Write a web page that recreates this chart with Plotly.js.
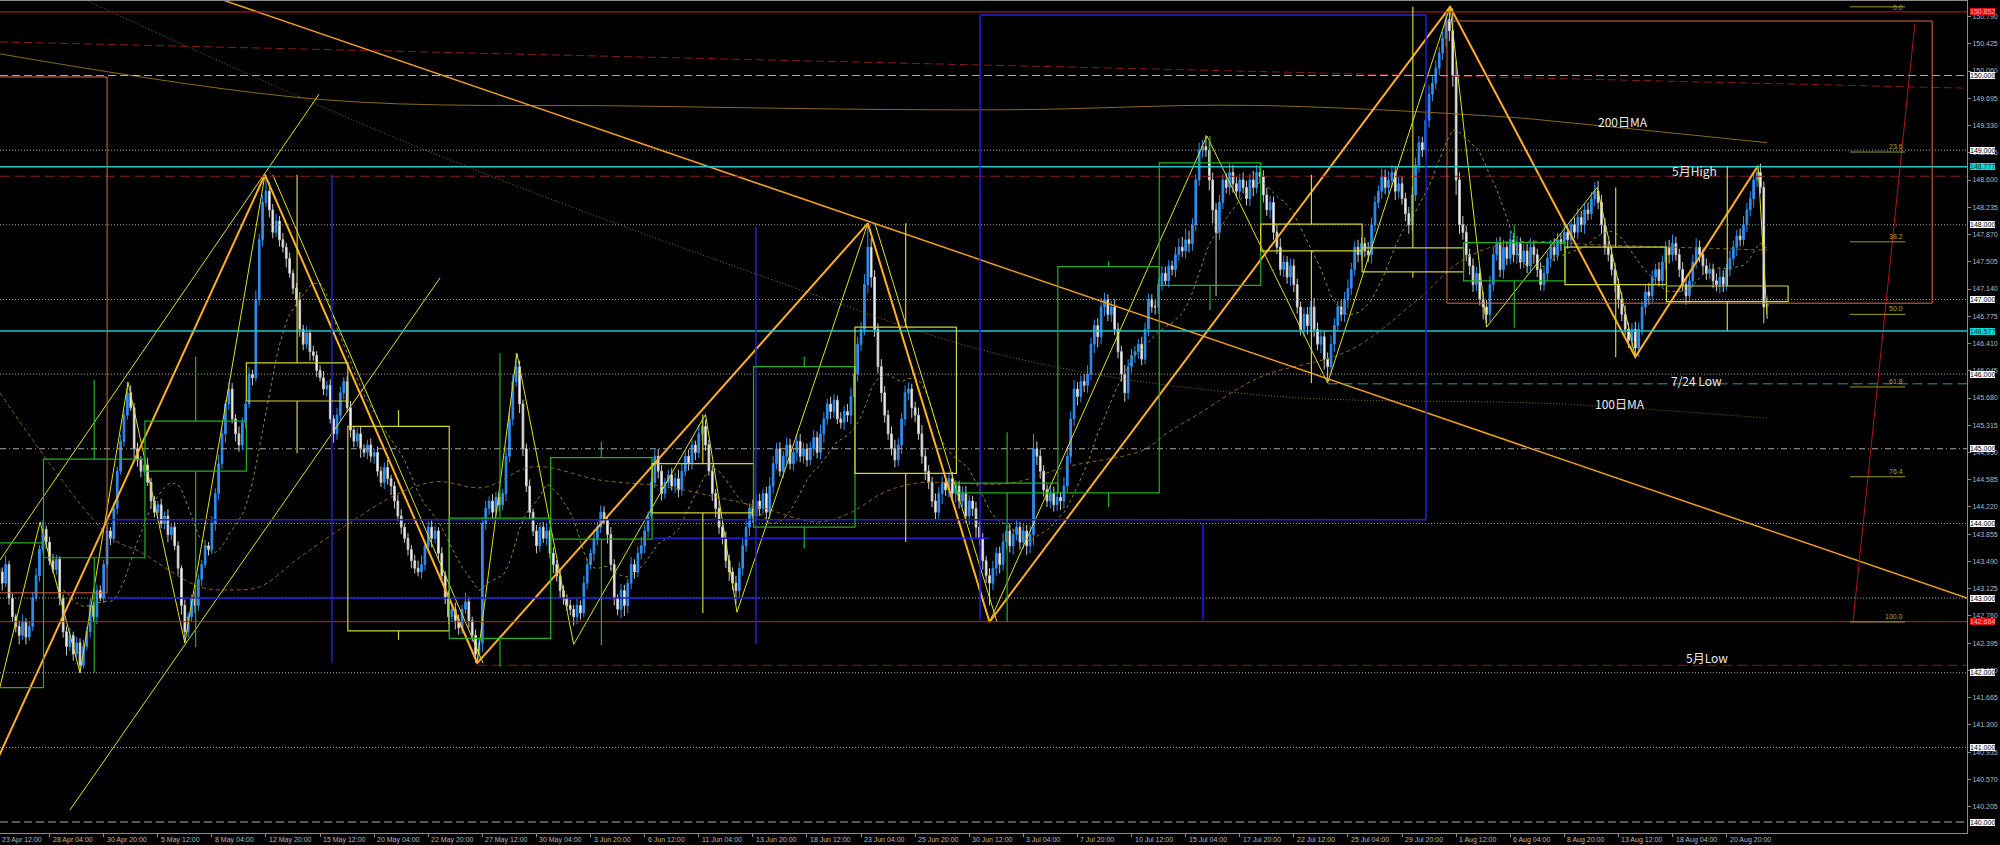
<!DOCTYPE html>
<html><head><meta charset="utf-8">
<script src="https://cdn.plot.ly/plotly-3.0.1.min.js"></script>
<style>html,body{margin:0;padding:0;background:#000;}#chart{width:2000px;height:845px;}</style>
</head><body><div id="chart"></div>
<script>
// ---------- H4 candles: closes in pips above 140.00, bar index k = 1..524 ----------
const C_A=[335,320,345,300,275,262,250,268,248,262,300,330,365,392,375,350,338,352,300,255,235,250,225,240,210,235];
const C_B=[255,290,275,310,300,345,390,380,420,470,510,545,575,555,500,485,470,478,455,430,415,425,400,410,385,395,370,340,290,255,275,300,290,325,345,370,365,400,440,480,520,560,580,540,520,505,535,560,600,595,700,780,830,845];
const C_C=[820,790,805,780,770,755,735,715,700,660,640,655,630,625,605,595,580,585,540,520,545,575,590,555,525,510,520,500,495,505,490,495,470,455,475,460,450,430,410,395,380,365,350,340,335,345,370,395,380,390,360,330,300,275,285,270,260,285,295,270,250,225,240];
const C_D=[400,420,430,415,435,425,440,490,540,590,610,560,500,450,415,390,370,395,380,390,360,345,330,310,300,290,285,275,290,280,320,345,360,380,395,415,405,385,345,300,285,310,290,320,345,335,360,370,390,410,455,490,470,440,455,465,450,460,445,470,490,480,505,495,520,530,505,470,440,420,395,380,350,335,320,310];
const C_E=[340,370,395,420,410,430,420,440,415,450,480,500,470,490,505,480,495,510,490,500,485,500,515,495,520,540,560,550,565,540,535,550,545,570,600,640,660,720,770,730,660,610,575,545,520,500,485,505,540,575,580,555,545,520,490,470,455,430,415,440,455,445,460,440,450,430,440,410,430,420,395,380,350,330,320];
const C_F=[340,360,345,375,390,370,385,395,375,390,370,385,500,490,470,445,430,440,425,435,430,450,490,540,580,570,590,585,600,640,665,650,690,700,680,690,660,630,600,575,610,625,630,640,620,660,700,690,690,720,735,725,745,740,760,770,765,780,775,800,860,900,905,900];
const C_G=[860,820,790,830,860,850,870,855,845,860,850,835,860,850,870,865,840,820,830,790,770,740,750,730,745,720,690,660,680,665,690,660,640,650,620,610,640,665,690,680,700,715,740,770,760,775,765,760,800,830,845,865,850,860,870,845,855,835,815,800,840,880,910,900,940,975,990,1010,1030,1050,1075,1060];
const C_H=[1000,860,800,790,760,745,720,735,700,690,680,720,760,775,740,770,755,780,760,775,750,765,745,770,760,740,720,735,755,770,760,780,775,790,780,800,790,810,800,820,815,835,845,830,800,770,760,740,720,700,680,660,645,660,635,660,690,710,705,730,740,725,750,770,760,775,760,740,720,705,725,750,770,760,745,735,740,725,720,730,720,740,755,770,785,780,800,820,835,860,870,850,690,694];
// upper / lower wicks in pips beyond the body
const UW_A=[8,6,12,5,6,4,8,10,5,6,8,10,6,12,5,7,9,6,4,5,7,10,5,8,6,9];
const LW_A=[6,10,5,9,7,8,12,6,10,5,6,4,8,5,9,6,5,7,10,8,12,6,9,5,10,4];
const UW_B=[6,9,5,8,7,6,10,5,8,6,9,7,14,10,6,8,5,9,10,6,7,5,8,6,9,5,7,6,4,8,6,5,9,7,6,8,5,10,7,12,6,5,9,8,6,10,7,5,9,6,12,8,10,22];
const LW_B=[5,8,6,10,4,7,5,9,6,8,5,7,6,4,12,9,8,6,5,10,7,9,6,8,10,7,6,9,12,15,8,6,10,7,9,5,8,6,10,9,7,12,8,6,10,9,7,8,6,10,5,8,9,6];
const UW_C=[12,8,10,7,9,6,8,5,7,10,6,9,5,8,6,7,9,6,8,5,10,8,6,7,9,5,8,10,6,7,9,5,8,6,7,10,5,6,8,9,5,7,6,8,10,12,6,8,9,7,5,8,6,10,7,9,8,6,12,7,5,8,6];
const LW_C=[10,8,6,9,7,12,6,8,9,10,8,6,12,7,9,5,8,10,6,12,8,7,9,6,10,8,7,12,6,9,8,10,7,6,9,8,12,10,7,9,6,8,10,7,6,9,8,10,12,7,9,6,8,10,7,12,9,8,6,10,8,12,7];
const UW_D=[8,10,6,9,7,8,6,12,9,10,18,8,6,7,9,5,8,6,7,10,5,8,6,9,7,5,8,6,9,7,10,8,6,12,7,9,8,6,10,7,5,9,8,6,10,7,9,12,8,6,7,9,10,8,6,7,9,8,12,10,7,9,8,6,12,10,9,7,8,6,10,7,9,8,6,10];
const LW_D=[12,9,8,10,6,9,7,10,8,9,7,12,10,8,9,7,10,8,6,9,7,12,8,10,9,7,8,12,10,9,6,8,7,10,9,8,6,12,9,10,8,12,14,10,8,9,7,8,10,9,6,8,10,9,7,8,6,9,10,8,7,9,8,10,7,9,8,6,10,12,9,8,10,12,9,18];
const UW_E=[8,10,9,7,12,8,10,6,9,12,10,8,9,7,10,8,6,9,10,8,7,9,10,8,12,9,7,10,8,6,9,8,10,12,9,10,10,14,30,12,9,8,10,9,7,10,12,9,8,10,9,7,8,10,12,9,8,7,10,9,8,6,10,9,8,7,9,10,8,7,9,8,7,6,10];
const LW_E=[9,10,8,12,9,7,10,8,12,9,10,8,7,9,10,8,9,12,8,10,9,7,10,8,9,12,8,10,9,7,8,10,9,12,8,10,9,8,12,14,10,9,12,10,8,9,10,8,12,9,10,14,9,8,10,12,9,8,10,9,14,8,10,9,12,10,8,9,12,10,14,9,12,10,30];
const UW_F=[10,8,9,12,7,10,8,9,7,10,8,12,20,10,9,8,7,10,9,8,7,12,14,10,12,9,8,10,12,9,8,10,12,9,7,8,10,9,8,12,10,9,8,7,10,9,8,7,9,8,10,9,8,7,10,12,14,15,12,9,8,10,9,15];
const LW_F=[9,10,12,8,10,9,12,8,10,9,12,10,14,12,10,9,8,10,9,8,12,10,8,9,10,12,8,9,10,8,12,14,10,12,9,10,8,9,10,12,9,8,10,9,8,7,9,8,10,9,8,7,9,8,10,9,8,10,12,10,9,8,10,9];
const UW_G=[12,10,9,10,8,9,12,10,9,8,10,9,8,12,10,9,8,10,9,8,10,12,9,8,10,9,8,7,9,10,8,12,9,10,8,9,12,10,8,9,10,12,9,8,10,9,8,12,10,9,8,10,9,12,10,8,9,10,8,9,12,10,9,8,10,12,9,10,8,9,12,17];
const LW_G=[14,18,85,10,9,8,10,12,9,10,8,9,10,12,8,9,10,8,12,10,9,8,10,9,12,10,9,8,10,12,9,10,8,12,14,20,9,10,8,9,10,12,9,8,10,9,8,10,12,9,8,10,9,8,10,12,9,8,10,12,9,8,10,9,8,10,9,8,10,9,12,14];
const UW_H=[30,20,10,12,9,8,10,9,8,10,9,12,10,8,9,10,8,12,9,10,8,9,10,12,9,8,10,9,8,10,12,9,8,10,9,8,10,12,9,8,10,9,12,14,10,9,8,10,9,8,10,12,9,8,10,9,8,10,12,9,8,10,9,8,10,12,9,8,10,9,8,10,12,9,8,10,9,8,10,12,9,8,10,9,8,10,12,9,10,9,9,12,8,10];
const LW_H=[15,20,12,10,9,12,10,9,8,17,12,10,9,8,10,12,9,8,10,12,9,8,10,9,12,10,8,9,10,12,9,8,10,9,12,10,8,9,10,12,9,8,10,9,12,10,9,8,10,12,9,8,10,12,12,12,8,10,12,9,10,8,9,10,12,9,8,10,9,12,10,8,9,10,12,9,8,10,9,12,10,8,9,10,12,9,8,10,9,12,10,8,22,10];
const FIRST_OPEN=340;

// ---------- axis labels ----------
const xLabels=["23 Apr 12:00","28 Apr 04:00","30 Apr 20:00","5 May 12:00","8 May 04:00","12 May 20:00","15 May 12:00","20 May 04:00","22 May 20:00","27 May 12:00","30 May 04:00","3 Jun 20:00","6 Jun 12:00","11 Jun 04:00","13 Jun 20:00","18 Jun 12:00","23 Jun 04:00","25 Jun 20:00","30 Jun 12:00","3 Jul 04:00","7 Jul 20:00","10 Jul 12:00","15 Jul 04:00","17 Jul 20:00","22 Jul 12:00","25 Jul 04:00","29 Jul 20:00","1 Aug 12:00","6 Aug 04:00","8 Aug 20:00","13 Aug 12:00","18 Aug 04:00","20 Aug 20:00"];
const BARS_PER_LABEL=16;
const yTicks=[150.790,150.425,150.060,149.695,149.330,148.965,148.600,148.235,147.870,147.505,147.140,146.775,146.410,146.045,145.680,145.315,144.950,144.585,144.220,143.855,143.490,143.125,142.760,142.395,142.030,141.665,141.300,140.935,140.570,140.205];
const roundLevels=[150,149,148,147,146,145,144,143,142,141,140];
const cyanLevels=[148.777,146.577];
const redLevels=[150.852,142.684];

// ---------- moving averages ----------
const ma200K=[1.3,95.7,190.6,297.1,371,448,462.7,524];
const ma200P=[150.29,149.68,149.59,149.54,149.60,149.44,149.38,149.10];
const ma100K=[20,119.6,223.2,300,374,462.7,524];
const ma100P=[151.15,149.14,147.37,146.23,145.72,145.60,145.41];
const brownK=[1.3,33.9,42.7,60.5,70.2,78.2,90.1,104.8,119.6,130.6,144.2,159,178.8,198.6,213.4,226.1,243,252.7,262.5,272.5,300,316.9,339.4,346.5,356.3,374,400.6,420.4,434,448,474.6,524];
const brownP=[145.75,143.82,143.62,143.15,143.11,143.15,143.55,144.01,144.41,144.56,144.48,144.76,144.58,144.49,144.35,144.22,144.02,144.14,144.41,144.54,144.54,144.76,144.98,145.21,145.48,145.96,146.32,146.99,147.53,147.76,147.73,147.66];
const SMA_PERIOD=20;

// ---------- drawn objects ----------
const orangeZzK=[-9,79.7,142.5,258.0,294.0,430.2,485,521.3];
const orangeZzP=[139.89,148.67,142.13,148.02,142.68,150.92,146.23,148.79];
const yellowZzK=[-9,13.2,25,39.2,56,79.7,142.4,154.2,171,210,219.3,258,294,358.3,394,430.2,441,473.7,485,521.3,524];
const yellowZzP=[139.89,144.02,142.0,145.89,142.4,148.67,142.13,146.28,142.38,145.46,142.81,148.02,142.68,149.19,145.88,150.92,146.63,148.5,146.23,148.79,146.74];
const yellow2K=[[82,144.2],[260.1,296.2]];
const yellow2P=[[148.67,142.13],[148.02,142.68]];
const chanUpK=[1.33,95.7], chanUpP=[143.51,149.75];
const chanLoK=[22.0,131.5], chanLoP=[140.16,147.29];
const trendK=[67.3,583.1], trendP=[151.01,143.0];
const redDashK=[1.33,583.1], redDashP=[150.45,149.83];
const redRayK=[549.4,567.7], redRayP=[142.69,150.70];

const wkStart=[-15,15,45,75,105,135,165,195,225,255,285,315,345,375,405,435,465,495];
const wkEnd=[15,45,75,105,135,165,195,225,255,285,315,345,375,405,435,465,495,531];
const wkOpen=[141.80,143.54,144.70,146.15,145.30,142.46,143.79,144.80,143.95,146.63,144.41,144.41,147.19,148.01,147.69,147.25,147.70,147.18];
const wkClose=[143.74,144.86,145.37,145.64,142.56,144.07,144.88,144.14,146.10,144.67,144.54,147.44,148.83,147.65,147.37,147.76,147.20,146.97];
const wkHigh=[144.10,145.92,146.23,148.67,145.52,146.28,145.09,145.46,146.23,148.02,145.22,147.51,149.19,148.67,150.92,148.00,148.50,148.78];
const wkLow=[139.89,142.00,142.34,144.94,142.44,142.08,142.37,142.80,143.67,143.75,142.68,144.22,146.86,145.88,147.29,146.62,146.23,146.58];

const blueVK=[99.5,224.9,291.2,357.1,423.1];
const blueVTop=[148.67,147.97,150.81,144.0,150.81];
const blueVBot=[142.13,142.38,142.71,142.71,144.05];
const blueHP=[150.81,144.05,143.0,143.8];
const blueHK0=[291.2,33.3,33.3,194.5];
const blueHK1=[423.1,423.1,226,294];

const salmonK0=[-20,429.3], salmonK1=[33.0,572.8], salmonTop=[149.98,150.73], salmonBot=[143.07,146.95];

const fiboLabels=['0.0','23.6','38.2','50.0','61.8','76.4','100.0'];
const fiboPrices=[150.92,148.975,147.772,146.80,145.828,144.625,142.68];
const fiboK=[548.5,564.8];

const noteText=['200日MA','5月High','7/24 Low','100日MA','5月Low'];
const noteK=[481.4,502.4,503,480.5,506.2];
const noteP=[149.39,148.73,145.92,145.60,142.20];

const mayHigh=148.65, mayLow=142.10, mayLowK=142.5, jul24Low=145.87, jul24K=394;
const X_RANGE=[1.331,583.1], Y_RANGE=[139.853,150.998];

// ---------- build candles ----------
const closes=[].concat(C_A,C_B,C_C,C_D,C_E,C_F,C_G,C_H);
const uw=[].concat(UW_A,UW_B,UW_C,UW_D,UW_E,UW_F,UW_G,UW_H);
const lw=[].concat(LW_A,LW_B,LW_C,LW_D,LW_E,LW_F,LW_G,LW_H);
const P=v=>140+v/100;
const K=[],O=[],H=[],L=[],Cc=[];
for(let i=0;i<closes.length;i++){
  const op=i===0?FIRST_OPEN:closes[i-1], cl=closes[i];
  K.push(i+1); O.push(P(op)); Cc.push(P(cl));
  H.push(P(Math.max(op,cl)+(uw[i]??8)));
  L.push(P(Math.min(op,cl)-(lw[i]??8)));
}
const sma=Cc.map((v,i)=>{if(i<SMA_PERIOD-1)return null;let s=0;for(let j=i-SMA_PERIOD+1;j<=i;j++)s+=Cc[j];return s/SMA_PERIOD;});

const traces=[
 {type:'scatter',mode:'lines',x:ma200K,y:ma200P,line:{color:'#8a6a1c',width:1,shape:'spline'},hoverinfo:'skip'},
 {type:'scatter',mode:'lines',x:ma100K,y:ma100P,line:{color:'#8a6a1c',width:1,dash:'1px,2px',shape:'spline'},hoverinfo:'skip'},
 {type:'scatter',mode:'lines',x:brownK,y:brownP,line:{color:'#8a6020',width:1,dash:'4px,3px',shape:'spline'},hoverinfo:'skip'},
 {type:'scatter',mode:'lines',x:K,y:sma,line:{color:'#8c8c24',width:1,dash:'3px,3px'},hoverinfo:'skip'},
 {type:'candlestick',x:K,open:O,high:H,low:L,close:Cc,
  increasing:{line:{color:'#2e8ff0',width:1},fillcolor:'#2e8ff0'},
  decreasing:{line:{color:'#c8c8c8',width:1},fillcolor:'#ffffff'},
  whiskerwidth:0,hoverinfo:'skip'},
 {type:'scatter',mode:'lines',x:chanUpK,y:chanUpP,line:{color:'#e0e020',width:1},hoverinfo:'skip'},
 {type:'scatter',mode:'lines',x:chanLoK,y:chanLoP,line:{color:'#e0e020',width:1},hoverinfo:'skip'},
 {type:'scatter',mode:'lines',x:yellowZzK,y:yellowZzP,line:{color:'#e0e020',width:1},hoverinfo:'skip'},
 {type:'scatter',mode:'lines',x:yellow2K[0],y:yellow2P[0],line:{color:'#e0e020',width:1},hoverinfo:'skip'},
 {type:'scatter',mode:'lines',x:yellow2K[1],y:yellow2P[1],line:{color:'#e0e020',width:1},hoverinfo:'skip'},
 {type:'scatter',mode:'lines',x:orangeZzK,y:orangeZzP,line:{color:'#ffb020',width:2},hoverinfo:'skip'},
 {type:'scatter',mode:'lines',x:trendK,y:trendP,line:{color:'#f0a020',width:1.5},hoverinfo:'skip'},
 {type:'scatter',mode:'lines',x:redDashK,y:redDashP,line:{color:'#8b1a1a',width:1,dash:'8px,4px'},hoverinfo:'skip'},
 {type:'scatter',mode:'lines',x:redRayK,y:redRayP,line:{color:'#b01515',width:1},hoverinfo:'skip'}
];

// ---------- shapes ----------
const shapes=[];
function seg(x0,y0,x1,y1,color,width,dash,xref){shapes.push({type:'line',xref:xref||'x',yref:'y',x0,y0,x1,y1,line:{color,width:width||1,dash:dash||'solid'},layer:'above'});}
const roundDash={150:'8px,4px',145:'6px,3px,1px,3px',140:'8px,4px'};
roundLevels.forEach(p=>seg(0,p,1,p,'#a8a8a8',1,roundDash[p]||'1px,2px','paper'));
seg(0,redLevels[0],1,redLevels[0],'#d01818',1,'solid','paper');
seg(0,redLevels[1],1,redLevels[1],'#e01818',1,'solid','paper');
seg(0,mayHigh,1,mayHigh,'#8b1a1a',1,'10px,5px','paper');
seg(mayLowK,mayLow,X_RANGE[1],mayLow,'#8b1a1a',1,'10px,5px');
seg(jul24K,jul24Low,X_RANGE[1],jul24Low,'#2a9a9a',1,'10px,5px');
cyanLevels.forEach(p=>seg(0,p,1,p,'#22c4c4',1.5,'solid','paper'));
blueVK.forEach((k,i)=>seg(k,blueVTop[i],k,blueVBot[i],'#2020d8',1.5));
blueHP.forEach((p,i)=>seg(blueHK0[i],p,blueHK1[i],p,'#2020d8',1.5));
salmonK0.forEach((k,i)=>shapes.push({type:'rect',xref:'x',yref:'y',x0:k,x1:salmonK1[i],y0:salmonBot[i],y1:salmonTop[i],line:{color:'#d86848',width:1},fillcolor:'rgba(0,0,0,0)',layer:'above'}));
wkStart.forEach((s,i)=>{
  const col=wkClose[i]>=wkOpen[i]?'#22b022':'#d2d232';
  const x0=s-0.8,x1=wkEnd[i]-0.8,xm=(s+wkEnd[i])/2-0.8;
  const top=Math.max(wkOpen[i],wkClose[i]),bot=Math.min(wkOpen[i],wkClose[i]);
  shapes.push({type:'rect',xref:'x',yref:'y',x0,x1,y0:bot,y1:top,line:{color:col,width:1.2},fillcolor:'rgba(0,0,0,0)',layer:'above'});
  seg(xm,top,xm,wkHigh[i],col,1.2);
  seg(xm,bot,xm,wkLow[i],col,1.2);
});
fiboPrices.forEach(p=>seg(fiboK[0],p,fiboK[1],p,'#9a9a20',1));

// ---------- annotations ----------
const ann=[];
const axFont={family:'Liberation Sans',size:7,color:'#b8b8b8'};
xLabels.forEach((t,i)=>{
  const k=i*BARS_PER_LABEL;
  if(k<X_RANGE[0]){ann.push({xref:'paper',yref:'paper',x:0,y:0,xanchor:'left',yanchor:'top',xshift:0,yshift:-1,text:t,showarrow:false,font:axFont});}
  else ann.push({xref:'x',yref:'paper',x:k,y:0,xanchor:'left',yanchor:'top',xshift:1,yshift:-1,text:t,showarrow:false,font:axFont});
});
function ylab(p,txt,bg,fg){ann.push({xref:'paper',yref:'y',x:1,y:p,xanchor:'left',yanchor:'middle',xshift:3,text:txt,showarrow:false,bgcolor:bg,bordercolor:bg,borderwidth:0,borderpad:0,font:{family:'Liberation Sans',size:7,color:fg}});}
roundLevels.forEach(p=>ylab(p,p.toFixed(3),'#ffffff','#000000'));
cyanLevels.forEach(p=>ylab(p,p.toFixed(3),'#10d8d8','#103030'));
redLevels.forEach(p=>ylab(p,p.toFixed(3),'#e01010','#ffb0b0'));
fiboLabels.forEach((t,i)=>{
  const nearTop=fiboPrices[i]>Y_RANGE[1]-0.15;
  ann.push({xref:'x',yref:'y',x:fiboK[1],y:nearTop?Y_RANGE[1]:fiboPrices[i],xanchor:'right',yanchor:nearTop?'top':'bottom',yshift:nearTop?-1:0,text:t,showarrow:false,font:{family:'Liberation Sans',size:7,color:'#a8a828'}});
});
noteText.forEach((t,i)=>ann.push({xref:'x',yref:'y',x:noteK[i],y:noteP[i],xanchor:'center',yanchor:'middle',text:t,showarrow:false,font:{family:'Noto Sans CJK JP, Liberation Sans',size:12,color:'#e8e8e8'}}));

const layout={
  width:2000,height:845,margin:{l:0,r:33,t:1,b:12,pad:0},
  paper_bgcolor:'#000000',plot_bgcolor:'#000000',showlegend:false,hovermode:false,
  xaxis:{type:'linear',range:X_RANGE,showgrid:false,zeroline:false,showline:true,linecolor:'#8a8a8a',linewidth:1,mirror:true,
    tickvals:xLabels.map((t,i)=>i*BARS_PER_LABEL),ticks:'outside',ticklen:3,tickcolor:'#8a8a8a',showticklabels:false,rangeslider:{visible:false},fixedrange:true},
  yaxis:{side:'right',range:Y_RANGE,showgrid:false,zeroline:false,showline:true,linecolor:'#8a8a8a',linewidth:1,
    tickvals:yTicks,ticktext:yTicks.map(v=>v.toFixed(3)),ticks:'outside',ticklen:3,tickcolor:'#8a8a8a',
    tickfont:axFont,fixedrange:true},
  shapes:shapes,annotations:ann
};
Plotly.newPlot('chart',traces,layout,{staticPlot:true,displayModeBar:false});
</script></body></html>
